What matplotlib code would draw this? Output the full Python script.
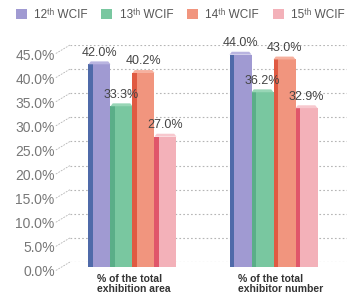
import matplotlib.pyplot as plt
from matplotlib.transforms import ScaledTranslation

plt.rcParams['font.family'] = ['Liberation Sans', 'DejaVu Sans']

categories = ['% of the total\nexhibition area', '% of the total\nexhibitor number']
series = ['12\u1d57\u02b0 WCIF', '13\u1d57\u02b0 WCIF', '14\u1d57\u02b0 WCIF', '15\u1d57\u02b0 WCIF']
values = [
    [42.0, 44.0],
    [33.3, 36.2],
    [40.2, 43.0],
    [27.0, 32.9],
]
face_colors = ['#a09ad2', '#79c7a0', '#f1957e', '#f3b1b9']
side_colors = ['#4f6aa9', '#5aae88', '#e05a42', '#e0566a']
cap_colors = ['#b9b4e0', '#98d6b6', '#f6b09e', '#f7c8ce']
yticks = [0, 5, 10, 15, 20, 25, 30, 35, 40, 45]

fig = plt.figure(figsize=(3.49, 3.02), dpi=100)
ax = fig.add_axes([70 / 349, 1 - 262 / 302, 277 / 349, 217 / 302])

w = 0.156
side = 0.032
cap = 0.6
base = -1.0  # bars sit a little in front of / below the back-wall grid
for j in range(len(series)):
    for i in range(len(categories)):
        x0 = i + (j - 2) * w
        v = values[j][i]
        top = base + v
        ax.bar(x0, v, bottom=base, width=w, align='edge', color=face_colors[j], zorder=2,
               clip_on=False, label=series[j] if i == 0 else None)
        ax.bar(x0, v, bottom=base, width=side, align='edge', color=side_colors[j], zorder=3,
               clip_on=False)
        ax.fill([x0, x0 + w, x0 + w - side * 0.5, x0 + side * 0.5],
                [top, top, top + cap, top + cap], color=cap_colors[j], zorder=3, lw=0)
        ax.annotate('%.1f%%' % v, (x0 + w / 2, top + cap), xytext=(0, 2),
                    textcoords='offset points', ha='center', va='bottom',
                    fontsize=9, color='#444444', zorder=5)

for i, c in enumerate(categories):
    ax.text(i - 0.252, -0.055, c, transform=ax.get_xaxis_transform(),
            ha='left', va='top', fontsize=7.5, fontweight='bold',
            color='#333333', linespacing=0.95)

ax.set_xlim(-0.443, 1.521)
ax.set_ylim(0, 45)
ax.set_xticks([])
ax.set_yticks(yticks)
ax.set_yticklabels(['%.1f%%' % t for t in yticks], fontsize=10, color='#777777')
ax.tick_params(axis='y', length=0, pad=11)
shift = ScaledTranslation(0, -9 / 100, fig.dpi_scale_trans)
for lab in ax.get_yticklabels():
    lab.set_transform(lab.get_transform() + shift)

for t in yticks:
    ax.axhline(t, color='#b5b5b5', lw=0.8, ls=(0, (1.5, 2)), zorder=1)
    ax.annotate('', xy=(0, t), xycoords=('axes fraction', 'data'),
                xytext=(-10, -6), textcoords='offset points',
                arrowprops=dict(arrowstyle='-', color='#b5b5b5', lw=0.6, ls=(0, (1.5, 2)),
                                shrinkA=0, shrinkB=0),
                annotation_clip=False)

for s in ax.spines.values():
    s.set_visible(False)

fig.legend(loc='upper left', bbox_to_anchor=(5 / 349, 1 + 2 / 302), ncol=4, frameon=False,
           fontsize=8.5, handlelength=0.93, handleheight=0.93, handletextpad=0.6,
           columnspacing=1.2, labelcolor='#555555')

fig.savefig('out.png', dpi=100)
